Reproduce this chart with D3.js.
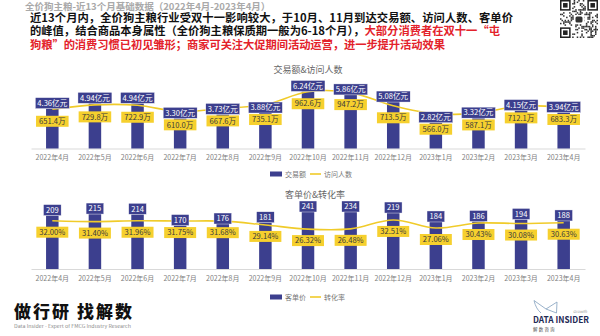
<!DOCTYPE html>
<html><head><meta charset="utf-8">
<script src="https://cdn.jsdelivr.net/npm/d3@7"></script>
<style>
body{margin:0;background:#fff}
svg{display:block}
text{font-family:"Noto Sans CJK SC","Noto Sans",sans-serif}
</style>
</head><body>
<svg id="c" width="600" height="336"></svg>
<script>
// Monthly base data for full-price dog food, Apr 2022 – Apr 2023
const months = ["2022年4月","2022年5月","2022年6月","2022年7月","2022年8月","2022年9月","2022年10月","2022年11月","2022年12月","2023年1月","2023年2月","2023年3月","2023年4月"];
const gmv = [4.36,4.94,4.94,3.30,3.73,3.88,6.24,5.86,5.08,2.82,3.32,4.15,3.94];          // 交易额, 亿元
const visitors = [651.4,729.8,722.9,610.0,667.6,735.1,962.6,947.2,713.5,566.0,587.1,712.1,683.3]; // 访问人数, 万
const unitPrice = [209,215,214,170,176,181,241,234,219,184,186,194,188];                  // 客单价
const convRate = [32.00,31.40,31.96,31.75,31.68,29.14,26.32,26.48,32.51,27.06,30.43,30.08,30.63]; // 转化率, %

const NAVY = "#3c3f8e", GOLD = "#f6d02e", LINE = "#f0cb2a";
const svg = d3.select("#c");

// ---- header text ----
svg.append("text").attr("x",25).attr("y",9.6).attr("font-size",9.5).attr("font-weight",600)
  .attr("fill","#a9a9a9").text("全价狗主粮-近13个月基础数据（2022年4月-2023年4月）");
svg.append("text").attr("x",30).attr("y",21.8).attr("font-size",11.3).attr("font-weight",700)
  .attr("fill","#111").attr("textLength",483).attr("lengthAdjust","spacing")
  .text("近13个月内，全价狗主粮行业受双十一影响较大，于10月、11月到达交易额、访问人数、客单价");
const l2 = svg.append("text").attr("x",30).attr("y",35).attr("font-size",11.3).attr("font-weight",700)
  .attr("textLength",470).attr("lengthAdjust","spacing");
l2.append("tspan").attr("fill","#111").text("的峰值，结合商品本身属性（全价狗主粮保质期一般为6-18个月），");
l2.append("tspan").attr("fill","#e3222b").text("大部分消费者在双十一“屯");
svg.append("text").attr("x",30).attr("y",48.5).attr("font-size",11.3).attr("font-weight",700)
  .attr("fill","#e3222b").attr("textLength",415).attr("lengthAdjust","spacing")
  .text("狗粮”的消费习惯已初见雏形；商家可关注大促期间活动运营，进一步提升活动效果");

// ---- QR badge ----
(function(){
  const g = svg.append("g").attr("transform","translate(560,0)");
  const n = 25, s = 1.52;
  g.append("rect").attr("width",n*s).attr("height",n*s).attr("fill","#fff");
  const finder = (cx,cy)=>{
    g.append("rect").attr("x",cx*s).attr("y",cy*s).attr("width",7*s).attr("height",7*s).attr("fill","#222");
    g.append("rect").attr("x",(cx+1)*s).attr("y",(cy+1)*s).attr("width",5*s).attr("height",5*s).attr("fill","#fff");
    g.append("rect").attr("x",(cx+2)*s).attr("y",(cy+2)*s).attr("width",3*s).attr("height",3*s).attr("fill","#222");
  };
  const inFinder=(i,j)=>(i<8&&j<8)||(i>n-9&&j<8)||(i<8&&j>n-9);
  for(let i=0;i<n;i++)for(let j=0;j<n;j++){
    if(inFinder(i,j)) continue;
    if(((i*7+j*13)^(i*j))%3===0) g.append("rect").attr("x",i*s).attr("y",j*s).attr("width",s).attr("height",s).attr("fill","#333");
  }
  finder(0,0); finder(n-7,0); finder(0,n-7);
  g.append("rect").attr("x",14).attr("y",15).attr("width",10).attr("height",9).attr("fill","#fff");
  g.append("rect").attr("x",15.5).attr("y",16.5).attr("width",7).attr("height",6).attr("rx",1.5).attr("fill","#333");
})();

// ---- shared x scale ----
const x = d3.scaleBand().domain(months).range([31,585]);
const barW = 12.5;
const cx = d => x(d) + x.bandwidth()/2;

function panel(o){
  const g = svg.append("g");
  // title
  g.append("text").attr("x",o.titleX).attr("y",o.titleY).attr("text-anchor","middle")
    .attr("font-size",9).attr("fill","#666").text(o.title);
  // axis
  const ax = g.append("g").attr("transform",`translate(0,${o.base})`)
    .call(d3.axisBottom(x).tickSize(0).tickPadding(7));
  ax.select(".domain").attr("stroke","#d9d9d9");
  ax.selectAll("text").attr("font-size",7).attr("fill","#808080")
    .attr("font-family",'"Noto Sans CJK SC",sans-serif');
  // bars
  g.selectAll(".bar").data(months).join("rect")
    .attr("x",d=>cx(d)-barW/2).attr("width",barW)
    .attr("y",(d,i)=>o.yBar(o.bars[i])).attr("height",(d,i)=>o.base-o.yBar(o.bars[i]))
    .attr("fill",NAVY);
  // line
  const line = d3.line().x(d=>cx(d[0])).y(d=>o.yLine(d[1])).curve(d3.curveCatmullRom.alpha(0.5));
  g.append("path").datum(months.map((m,i)=>[m,o.line[i]]))
    .attr("d",line).attr("fill","none").attr("stroke",LINE).attr("stroke-width",1.6);
  // bar value labels (kept inside the plot area)
  const h = 11;
  const barLabelBottom = [];
  months.forEach((m,i)=>{
    const bottom = Math.max(o.yBar(o.bars[i]), o.top + h);
    barLabelBottom.push(bottom);
    const t = g.append("text").attr("x",cx(m)).attr("y",bottom - h/2 + 2.7).attr("text-anchor","middle")
      .attr("font-size",7.6).attr("fill","#fff").text(o.barFmt(o.bars[i]));
    const w = t.node().getComputedTextLength() + o.padB*2;
    g.insert("rect", () => t.node()).attr("x",cx(m)-w/2).attr("y",bottom-h).attr("width",w).attr("height",h)
      .attr("fill",NAVY).attr("stroke","#fff").attr("stroke-width",0.4);
  });
  // line value labels, pushed below the bar label when they would collide
  months.forEach((m,i)=>{
    const top = Math.max(o.yLine(o.line[i]) + o.gap, barLabelBottom[i] + 1);
    const t = g.append("text").attr("x",cx(m)).attr("y",top + h/2 + 2.7).attr("text-anchor","middle")
      .attr("font-size",7.6).attr("fill","#3a3a3a").text(o.lineFmt(o.line[i]));
    const w = t.node().getComputedTextLength() + 6;
    g.insert("rect", () => t.node()).attr("x",cx(m)-w/2).attr("y",top).attr("width",w).attr("height",h)
      .attr("fill",GOLD);
  });
  // legend
  const ly = o.legendY;
  g.append("rect").attr("x",270).attr("y",ly-2.5).attr("width",12).attr("height",5).attr("fill",NAVY);
  g.append("text").attr("x",285).attr("y",ly+2.5).attr("font-size",7).attr("fill","#777").text(o.legend[0]);
  g.append("line").attr("x1",310).attr("x2",321).attr("y1",ly).attr("y2",ly).attr("stroke",LINE).attr("stroke-width",1.6);
  g.append("text").attr("x",324).attr("y",ly+2.5).attr("font-size",7).attr("fill","#777").text(o.legend[1]);
}

panel({
  title:"交易额&访问人数", titleX:308, titleY:73,
  base:148.5, top:79,
  yBar:d3.scaleLinear().domain([0,7]).range([148.5,84.5]),
  yLine:d3.scaleLinear().domain([0,1100]).range([146,84]),
  bars:gmv, line:visitors,
  barFmt:v=>v.toFixed(2)+"亿元", lineFmt:v=>v.toFixed(1)+"万",
  padB:2, gap:6.5, legendY:174, legend:["交易额","访问人数"]
});
panel({
  title:"客单价&转化率", titleX:315, titleY:198,
  base:269, top:201,
  yBar:d3.scaleLinear().domain([0,270]).range([269,200]),
  yLine:d3.scaleLinear().domain([0,46]).range([268,200]),
  bars:unitPrice, line:convRate,
  barFmt:v=>String(v), lineFmt:v=>v.toFixed(2)+"%",
  padB:2.5, gap:6, legendY:297, legend:["客单价","转化率"]
});

// ---- footer branding ----
svg.append("text").attr("x",14).attr("y",317.5).attr("font-size",17).attr("font-weight",900)
  .attr("fill","#111").attr("textLength",118).attr("lengthAdjust","spacing").text("做行研 找解数");
svg.append("text").attr("x",14).attr("y",327.5).attr("font-size",4.2).attr("fill","#8a8a8a")
  .attr("textLength",117).attr("lengthAdjust","spacingAndGlyphs")
  .text("Data Insider - Expert of FMCG Industry Research");
svg.append("path").attr("d","M534,300.5 L546,309 L557,302 L556.5,313 L546,309 M534,300.5 Q536,309 541,313")
  .attr("fill","none").attr("stroke","#8fa9c4").attr("stroke-width",0.9);
svg.append("text").attr("x",573).attr("y",312.5).attr("font-size",4).attr("font-style","italic")
  .attr("fill","#999").text("Growth");
svg.append("text").attr("x",533).attr("y",322.5).attr("font-size",9).attr("font-weight",700)
  .attr("font-family","'Noto Sans',sans-serif")
  .attr("fill","#1f2a55").attr("textLength",56).attr("lengthAdjust","spacingAndGlyphs").text("DATA INSIDER");
svg.append("text").attr("x",533).attr("y",330.5).attr("font-size",4.5).attr("fill","#555")
  .attr("letter-spacing",1.2).text("解数咨询");
</script>
</body></html>
